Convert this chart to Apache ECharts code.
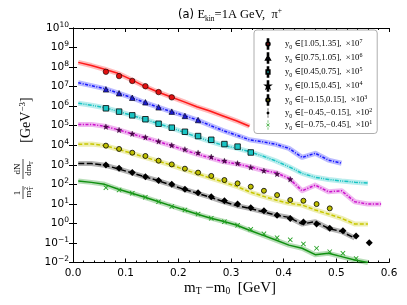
<!DOCTYPE html>
<html><head><meta charset="utf-8">
<script src="https://cdn.jsdelivr.net/npm/echarts@6/dist/echarts.min.js"></script>
<style>html,body{margin:0;padding:0;background:#fff}#c{width:407px;height:305px}</style>
</head><body><div id="c"></div>
<script>
// ---- data (values as displayed, i.e. already multiplied by the legend scale factor) ----
const X_PTS = [0.0625,0.0875,0.1125,0.1375,0.1625,0.1875,0.2125,0.2375,0.2625,0.2875,0.3125,0.3375,0.3625,0.3875,0.4125,0.4375,0.4625,0.4875,0.5125,0.5375,0.5625];
const X_LINE = [0.010,0.035,0.060,0.085,0.110,0.135,0.160,0.185,0.210,0.235,0.260,0.285,0.310,0.335,0.360,0.385,0.410,0.435,0.460,0.485,0.510,0.535,0.560,0.585];

const RANGES = ['[1.05,1.35]','[0.75,1.05]','[0.45,0.75]','[0.15,0.45]','[\u22120.15,0.15]','[\u22120.45,\u22120.15]','[\u22120.75,\u22120.45]'];
const SCALE_EXP = ['7','6','5','4','3','2','1'];

const PTS_RED     = [5.75e7,3.47e7,1.95e7,1.05e7,5.25e6,2.82e6];
const PTS_BLUE    = [7.24e6,4.57e6,2.69e6,1.58e6,8.71e5,5.25e5,3.16e5,1.95e5];
const PTS_CYAN    = [7.76e5,5.25e5,3.39e5,2.14e5,1.26e5,7.94e4,4.90e4,2.95e4,1.91e4,1.15e4,8.51e3,4.27e3];
const PTS_MAGENTA = [8.91e4,6.03e4,3.89e4,2.57e4,1.58e4,1.0e4,6.17e3,4.17e3,2.57e3,1.62e3,1.20e3,741,501,339,182];
const PTS_YELLOW  = [9.55e3,6.46e3,4.17e3,2.82e3,1.62e3,1.05e3,631,398,269,166,112,75.9,46.8,28.2,15.8,14.5,9.77,5.89];
const PTS_BLACK   = [977,661,398,245,155,100,56.2,37.2,23.4,14.5,9.77,6.31,4.47,2.63,1.78,1.17,0.933,0.562,0.427,0.229,0.102];
const PTS_GREEN   = [67.6,51.3,34.7,21.9,12.9,7.24,4.90,3.02,1.82,1.23,0.794,0.501,0.295,0.186,0.145,0.0891,0.0537,0.0355,0.0295,0.0162];

const LINE_RED     = [1.74e8,1.20e8,7.76e7,4.79e7,2.34e7,1.07e7,5.50e6,3.02e6,1.70e6,9.33e5,5.62e5,3.16e5,1.78e5,9.33e4];
const LINE_BLUE    = [1.58e7,1.12e7,7.94e6,4.79e6,2.82e6,1.58e6,9.12e5,5.37e5,3.39e5,2.00e5,1.05e5,5.62e4,3.31e4,1.91e4,1.51e4,1.12e4,6.92e3,2.40e3,3.89e3,1.74e3,1.20e3];
const LINE_CYAN    = [1.41e6,1.12e6,8.32e5,5.50e5,3.47e5,2.19e5,1.32e5,7.94e4,4.68e4,2.69e4,1.58e4,1.0e4,7.08e3,4.68e3,2.82e3,1.58e3,794,363,229,178,148,129,115];
const LINE_MAGENTA = [1.17e5,1.17e5,9.33e4,6.31e4,3.98e4,2.51e4,1.58e4,1.0e4,5.89e3,3.55e3,2.24e3,1.48e3,1.12e3,794,525,398,204,46.8,91.2,41.7,46.8,12.9,9.77,9.77];
const LINE_YELLOW  = [1.12e4,1.17e4,9.55e3,6.31e3,3.98e3,2.51e3,1.58e3,1.0e3,589,355,214,132,79.4,41.7,25.1,15.8,10.7,8.71,4.90,3.02,1.82,0.933,0.933];
const LINE_BLACK   = [1.17e3,1.17e3,955,631,398,251,158,95.5,56.2,35.5,22.4,13.2,8.32,5.89,3.98,2.69,2.04,0.933,1.23,0.562,0.380,0.178];
const LINE_GREEN   = [148,126,100,57.5,36.3,22.4,13.5,8.13,5.01,3.02,1.91,1.29,0.832,0.447,0.251,0.141,0.0776,0.0537,0.0251,0.0295,0.0200,0.0135,0.0100];

// ---- styles ----
const SERIF = 'Liberation Serif, DejaVu Serif, serif';
const SANS = 'DejaVu Sans, sans-serif';
const NAMES = RANGES.map((r,i)=>'y0 in ' + r + ' x10^' + SCALE_EXP[i]);

// marker shapes (10x14 box, centre 5,7)
const SYM = {
  circle: 'M7.5,7a2.5,2.5 0 1,1 -5,0a2.5,2.5 0 1,1 5,0z',
  tri: 'M5,4.2L7.9,9.4L2.1,9.4z',
  square: 'M2.6,4.6h4.8v4.8h-4.8z',
  star: 'M5,4L5.71,6.03L7.85,6.07L6.14,7.37L6.76,9.43L5,8.2L3.24,9.43L3.86,7.37L2.15,6.07L4.29,6.03Z',
  diamond: 'M5,4.2L7.3,7L5,9.8L2.7,7z',
  cross: 'M2.5,5.1L3.1,4.5L5,6.4L6.9,4.5L7.5,5.1L5.6,7L7.5,8.9L6.9,9.5L5,7.6L3.1,9.5L2.5,8.9L4.4,7Z'
};
// legend icons: smaller marker with a vertical error bar (28x14 box, centre 14,7)
const ERRBAR = 'M0,0 M28,14 M13.65,1.5h0.7v3h-0.7z M13.65,9.5h0.7v3h-0.7z ';
const LSYM = {
  circle: 'M16,7a2,2 0 1,1 -4,0a2,2 0 1,1 4,0z',
  tri: 'M14,4.8L16.3,9L11.7,9z',
  square: 'M12.1,5.1h3.8v3.8h-3.8z',
  star: 'M14,4.6L14.57,6.22L16.28,6.26L14.91,7.3L15.41,8.94L14,7.96L12.59,8.94L13.09,7.3L11.72,6.26L13.43,6.22Z',
  diamond: 'M14,4.6L16,7L14,9.4L12,7z',
  cross: 'M12,5.5L12.5,5L14,6.5L15.5,5L16,5.5L14.5,7L16,8.5L15.5,9L14,7.5L12.5,9L12,8.5L13.5,7Z'
};

const CFG = [
  {pts:PTS_RED, line:LINE_RED, color:'#ff1a1a', mfill:'#e01010', sym:'circle', ssize:5.5, dash:'solid', bw:0.6},
  {pts:PTS_BLUE, line:LINE_BLUE, color:'#1a1aff', mfill:'#1a1acc', sym:'tri', ssize:5.5, dash:[3,1.5,1,1.5], bw:0.6},
  {pts:PTS_CYAN, line:LINE_CYAN, color:'#19c4c4', mfill:'#19c4c4', sym:'square', ssize:5.5, dash:[4,1.2,1,1.2,1,1.2], bw:0.8},
  {pts:PTS_MAGENTA, line:LINE_MAGENTA, color:'#cc11cc', mfill:'#550055', sym:'star', ssize:5.5, dash:[3,1.5,1.2,1.5], bw:0.3},
  {pts:PTS_YELLOW, line:LINE_YELLOW, color:'#c8c800', mfill:'#bfbf00', sym:'circle', ssize:5, dash:[4,2], bw:0.8},
  {pts:PTS_BLACK, line:LINE_BLACK, color:'#000000', mfill:'#000000', sym:'diamond', ssize:7, dash:[6,2.5], bw:0},
  {pts:PTS_GREEN, line:LINE_GREEN, color:'#109010', mfill:'#20a020', sym:'cross', ssize:5, dash:'solid', bw:0}
];

const series = [];
CFG.forEach((c,i)=>{
  const lineData = c.line.map((v,k)=>[X_LINE[k], v]);
  series.push({type:'line', name:'band'+i, data:lineData, symbol:'none', silent:true, z:1,
    lineStyle:{color:c.color, width:5, opacity:0.3, cap:'butt', join:'round'}});
  series.push({type:'line', name:'model'+i, data:lineData, symbol:'none', silent:true, z:2,
    lineStyle:{color:c.color, width:1.5, type:c.dash, cap:'butt'}});
});
CFG.forEach((c,i)=>{
  series.push({type:'scatter', name:NAMES[i], z:3,
    data:c.pts.map((v,k)=>[X_PTS[k], v]),
    symbol:'path://' + SYM[c.sym], symbolSize:c.ssize,
    itemStyle:{color:c.mfill, borderColor:'#000', borderWidth:c.bw, opacity:1}});
});

const tickLabel = {fontFamily:SANS, fontSize:10.5, color:'#000'};
const option = {
  animation:false,
  grid:{left:73, right:18, top:28, bottom:42.5},
  xAxis:[
    {type:'value', min:0, max:0.6, interval:0.1, position:'bottom',
     axisLine:{lineStyle:{color:'#000', width:1}},
     axisTick:{inside:true, length:4, lineStyle:{color:'#000'}},
     minorTick:{show:true, splitNumber:5, length:2, lineStyle:{color:'#000'}},
     splitLine:{show:false},
     axisLabel:Object.assign({margin:5, formatter:v=>v.toFixed(1)}, tickLabel)},
    {type:'value', min:0, max:0.6, interval:0.1, position:'top',
     axisLine:{lineStyle:{color:'#000', width:1}},
     axisTick:{inside:true, length:4, lineStyle:{color:'#000'}},
     minorTick:{show:true, splitNumber:5, length:2, lineStyle:{color:'#000'}},
     splitLine:{show:false}, axisLabel:{show:false}}
  ],
  yAxis:[
    {type:'log', logBase:10, min:0.01, max:1e10, interval:1, position:'left',
     axisLine:{show:true, lineStyle:{color:'#000', width:1}},
     axisTick:{show:true, inside:true, length:4, lineStyle:{color:'#000'}},
     splitLine:{show:false},
     axisLabel:{margin:4, color:'#000',
       formatter:v=>{const e=Math.round(Math.log10(v)); return '{a|10}{b|'+String(e).replace('-','\u2212')+'}';},
       rich:{a:{fontFamily:SANS, fontSize:10.5, lineHeight:14, color:'#000'},
             b:{fontFamily:SANS, fontSize:7.5, lineHeight:7, verticalAlign:'top', color:'#000'}}}},
    {type:'log', logBase:10, min:0.01, max:1e10, interval:1, position:'right',
     axisLine:{show:true, lineStyle:{color:'#000', width:1}},
     axisTick:{show:true, inside:true, length:4, lineStyle:{color:'#000'}},
     splitLine:{show:false}, axisLabel:{show:false}}
  ],
  legend:{
    orient:'vertical', left:254, top:30, padding:[7,5,2.5,1],
    itemWidth:24, itemHeight:12, itemGap:0,
    backgroundColor:'#fff', borderColor:'#999', borderWidth:0.8, borderRadius:3,
    data:NAMES.map((n,i)=>({name:n, icon:'path://' + ERRBAR + LSYM[CFG[i].sym]})),
    formatter:function(name){
      const i = NAMES.indexOf(name);
      return '{t|y}{sb|0}{t| \u2208' + RANGES[i] + ',  \u00d710}{sp|' + SCALE_EXP[i] + '}';
    },
    textStyle:{color:'#000', fontFamily:SERIF, fontSize:8.7, lineHeight:12, rich:{
      t:{fontFamily:SERIF, fontSize:8.7, lineHeight:12, color:'#000'},
      sb:{fontFamily:SERIF, fontSize:6, lineHeight:5, verticalAlign:'bottom', color:'#000'},
      sp:{fontFamily:SERIF, fontSize:6, lineHeight:5, verticalAlign:'top', color:'#000'}
    }}
  },
  graphic:[
    {type:'text', x:230, y:15, style:{
      text:'{a|(a)} {e|E}{k|kin}{e|=1A GeV,  \u03c0}{p|+}', align:'center', verticalAlign:'middle',
      rich:{a:{fontFamily:SANS, fontSize:11.5, lineHeight:16, color:'#000'},
            e:{fontFamily:SERIF, fontSize:12.5, lineHeight:16, color:'#000'},
            k:{fontFamily:SERIF, fontSize:7.5, lineHeight:6, verticalAlign:'bottom', color:'#000'},
            p:{fontFamily:SERIF, fontSize:7.5, lineHeight:6, verticalAlign:'top', color:'#000'}}}},
    {type:'text', x:230, y:288, style:{
      text:'{m|m}{s|T}{m| \u2212m}{s|0}{m|  [GeV]}', align:'center', verticalAlign:'middle',
      rich:{m:{fontFamily:SERIF, fontSize:15, lineHeight:17, color:'#000'},
            s:{fontFamily:SERIF, fontSize:9.5, lineHeight:7, verticalAlign:'bottom', color:'#000'}}}},
    {type:'group', x:23, y:200, rotation:Math.PI/2, children:[
      {type:'text', x:7, y:-5, style:{text:'1', font:'9px ' + SERIF, align:'center', verticalAlign:'middle', fill:'#000'}},
      {type:'line', shape:{x1:1, y1:0, x2:14, y2:0}, style:{stroke:'#000', lineWidth:0.7}},
      {type:'text', x:6, y:5.5, style:{text:'m', font:'9px ' + SERIF, align:'center', verticalAlign:'middle', fill:'#000'}},
      {type:'text', x:11.5, y:3, style:{text:'2', font:'6px ' + SERIF, align:'center', verticalAlign:'middle', fill:'#000'}},
      {type:'text', x:11.5, y:8, style:{text:'T', font:'6px ' + SERIF, align:'center', verticalAlign:'middle', fill:'#000'}},
      {type:'text', x:31, y:-5, style:{text:'dN', font:'9px ' + SERIF, align:'center', verticalAlign:'middle', fill:'#000'}},
      {type:'line', shape:{x1:21, y1:0, x2:41, y2:0}, style:{stroke:'#000', lineWidth:0.7}},
      {type:'text', x:30, y:5.5, style:{text:'dm', font:'9px ' + SERIF, align:'center', verticalAlign:'middle', fill:'#000'}},
      {type:'text', x:37, y:8, style:{text:'T', font:'6px ' + SERIF, align:'center', verticalAlign:'middle', fill:'#000'}},
      {type:'text', x:80, y:3, style:{text:'{g|[GeV}{p|\u22123}{g|]}', align:'center', verticalAlign:'middle',
        rich:{g:{fontFamily:SERIF, fontSize:14, lineHeight:16, color:'#000'},
              p:{fontFamily:SERIF, fontSize:9, lineHeight:7, verticalAlign:'top', color:'#000'}}}}
    ]}
  ],
  series:series
};
const chart = echarts.init(document.getElementById('c'), null, {renderer:'canvas'});
chart.setOption(option);
</script></body></html>
